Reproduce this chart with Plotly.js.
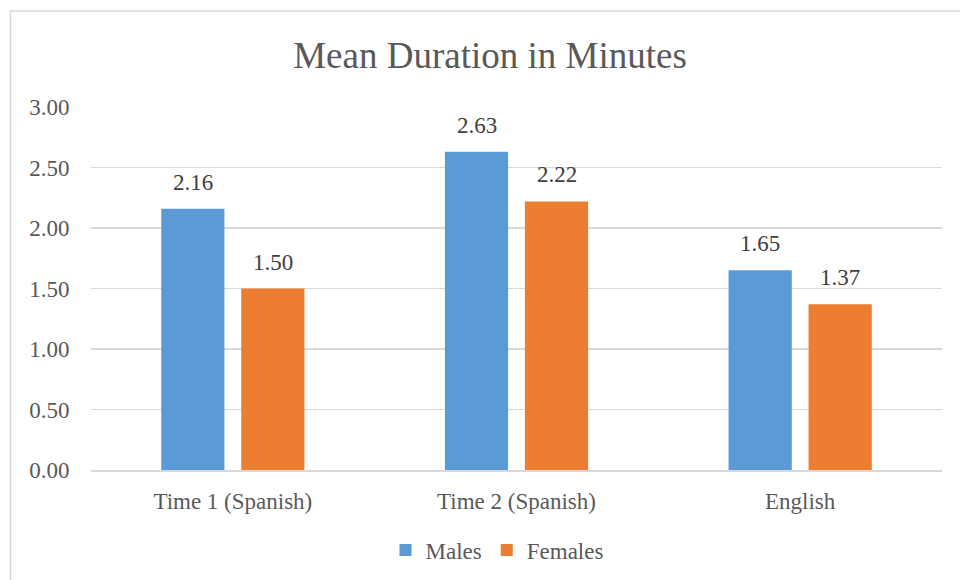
<!DOCTYPE html>
<html>
<head>
<meta charset="utf-8">
<script src="https://cdn.plot.ly/plotly-3.0.1.min.js"></script>
<style>html,body{margin:0;padding:0;background:#fff;}#chart{width:960px;height:580px;}</style>
</head>
<body>
<div id="chart"></div>
<script>
const categories = ["Time 1 (Spanish)", "Time 2 (Spanish)", "English"];
const males = [2.16, 2.63, 1.65];
const females = [1.50, 2.22, 1.37];
const yTicks = [0, 0.5, 1, 1.5, 2, 2.5, 3];
const yTickLabels = ["0.00", "0.50", "1.00", "1.50", "2.00", "2.50", "3.00"];

const FONT = "Liberation Serif";
const TXT = "#595959";

const traces = [
  {type: "bar", name: "Males", x: categories, y: males, marker: {color: "#5B9BD5"}, hoverinfo: "y"},
  {type: "bar", name: "Females", x: categories, y: females, marker: {color: "#ED7D31"}, hoverinfo: "y"}
];

const annotations = [];
[[males, -40], [females, 40]].forEach(([vals, shift]) => {
  vals.forEach((v, i) => {
    annotations.push({x: categories[i], y: v, xref: "x", yref: "y", text: v.toFixed(2),
      showarrow: false, xshift: shift, yshift: 12, yanchor: "bottom",
      font: {family: FONT, size: 23, color: "#404040"}});
  });
});

const layout = {
  width: 960, height: 580,
  font: {family: FONT, color: TXT},
  margin: {l: 91, r: 18, t: 107, b: 110},
  paper_bgcolor: "#fff", plot_bgcolor: "#fff",
  title: {text: "Mean Duration in Minutes", font: {family: FONT, size: 37, color: TXT},
    x: (490-91)/851, xanchor: "center", xref: "paper", yref: "container", y: 1 - 55/580, yanchor: "middle"},
  barmode: "group", bargap: 0.436, bargroupgap: 0.21,
  xaxis: {type: "category", showgrid: false, showline: true, linecolor: "#D9D9D9", linewidth: 1.5,
    ticks: "outside", ticklen: 10, tickcolor: "rgba(0,0,0,0)", tickangle: 0, automargin: false,
    tickfont: {family: FONT, size: 23, color: TXT}, fixedrange: true},
  yaxis: {range: [0, 3], tickvals: yTicks, ticktext: yTickLabels, showgrid: true, gridcolor: "#D9D9D9", gridwidth: 1.5,
    zeroline: false, showline: false, ticks: "outside", ticklen: 16, tickcolor: "rgba(0,0,0,0)", automargin: false,
    tickfont: {family: FONT, size: 23, color: TXT}, fixedrange: true},
  showlegend: true,
  legend: {orientation: "h", x: (497-91)/851, xanchor: "center", yref: "container", y: 1 - 550/580, yanchor: "middle",
    font: {family: FONT, size: 23, color: TXT}},
  annotations: annotations,
  shapes: [
    {type: "rect", xref: "paper", yref: "paper", x0: (10.5-91)/851, x1: (1000-91)/851, y0: (470-700)/363, y1: (470-11)/363,
      line: {color: "#D9D9D9", width: 1.5}, fillcolor: "rgba(0,0,0,0)", layer: "below"}
  ],
  hovermode: false
};

Plotly.newPlot("chart", traces, layout, {displayModeBar: false, staticPlot: true});
</script>
</body>
</html>
